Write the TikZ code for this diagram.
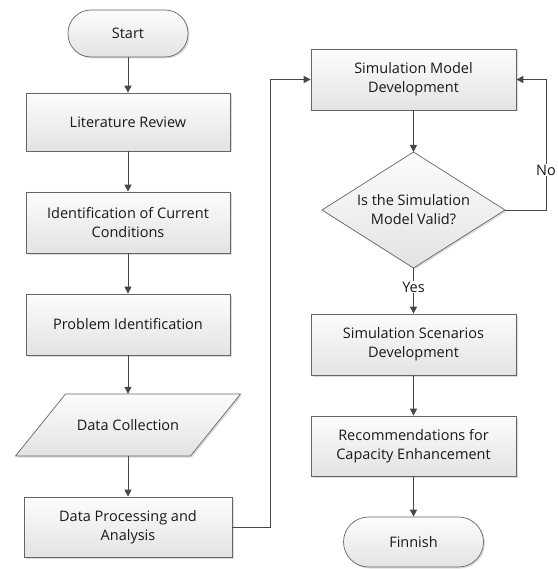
\documentclass[tikz,border=0pt]{standalone}
\usepackage{fontspec}
\setmainfont{Open Sans}
\usetikzlibrary{arrows.meta,shadows,calc}
\begin{document}
\begin{tikzpicture}[x=1pt,y=-1pt,
  shapestyle/.style={draw=black!60, line width=0.7pt, top color=black!1, bottom color=black!11,
    drop shadow={shadow xshift=1.5pt,shadow yshift=-1.5pt,fill=black!30,opacity=0.45}},
  txt/.style={align=center, font=\fontsize{14.5}{19}\selectfont, text=black!90},
  box/.style={shapestyle, txt, inner sep=0pt},
  term/.style={box, rounded corners=23pt},
  arr/.style={draw=black!72, line width=0.8pt, -{Triangle[length=7pt,width=7pt]}},
  lab/.style={txt, fill=white, inner sep=1pt}
]
\useasboundingbox (0,0) rectangle (557,569);
% left column
\node[term, minimum width=120, minimum height=47] (start) at (128,33.5) {Start};
\node[box, minimum width=204, minimum height=58] (lit) at (128,122) {Literature Review};
\node[box, minimum width=204, minimum height=61] (ident) at (128,222.5) {Identification of Current\\Conditions};
\node[box, minimum width=204, minimum height=61] (prob) at (128,324.5) {Problem Identification};
\path[shapestyle] (65.5,394) -- (240.5,394) -- (190.5,456) -- (15.5,456) -- cycle;
\node[txt, minimum width=175, minimum height=62, inner sep=0pt] (dc) at (128,425) {Data Collection};
\node[box, minimum width=208, minimum height=60] (dp) at (128,527) {Data Processing and\\Analysis};
% right column
\node[box, minimum width=205, minimum height=61] (smd) at (413.5,79.5) {Simulation Model\\Development};
\path[shapestyle] (413.5,152) -- (505,210) -- (413.5,268) -- (322,210) -- cycle;
\node[txt, minimum width=100, minimum height=40, inner sep=0pt] (valid) at (413.5,210) {Is the Simulation\\Model Valid?};
\coordinate (dN) at (413.5,152);
\coordinate (dS) at (413.5,268);
\coordinate (dE) at (505,210);
\node[box, minimum width=205, minimum height=61] (ssd) at (413.5,344.5) {Simulation Scenarios\\Development};
\node[box, minimum width=205, minimum height=60] (rec) at (413.5,446) {Recommendations for\\Capacity Enhancement};
\node[term, rounded corners=25pt, minimum width=140, minimum height=50] (fin) at (413.5,542) {Finnish};
% connectors
\draw[arr] (start) -- (lit);
\draw[arr] (lit) -- (ident);
\draw[arr] (ident) -- (prob);
\draw[arr] (prob.south) -- (dc.north);
\draw[arr] (dc.south) -- (dp.north);
\draw[arr] (dp.east) -- (270,527) |- (smd.west);
\draw[arr] (smd.south) -- (dN);
\draw[arr] (dE) -- (546,210) |- (smd.east);
\node[lab] at (546,170) {No};
\draw[arr] (dS) -- (ssd.north);
\node[lab] at (413.5,287) {Yes};
\draw[arr] (ssd) -- (rec);
\draw[arr] (rec) -- (fin);
\end{tikzpicture}
\end{document}
